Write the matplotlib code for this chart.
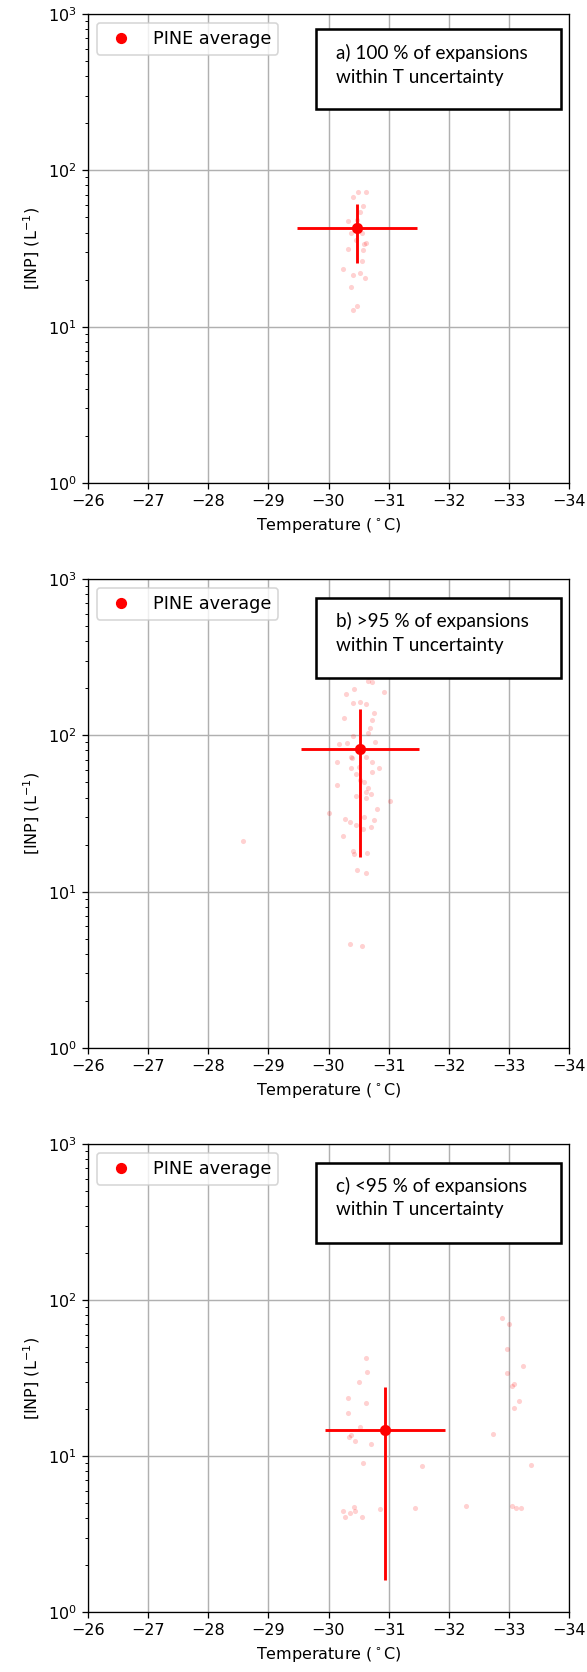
import matplotlib
matplotlib.use("Agg")
import matplotlib.pyplot as plt
from matplotlib.patches import Rectangle

# ---------------- data ----------------
# panel a: individual expansions
temp_a = [-30.49, -30.63, -30.41, -30.58, -30.53, -30.33, -30.48, -30.38, -30.45,
          -30.63, -30.59, -30.33, -30.57, -30.55, -30.24, -30.41, -30.52, -30.61,
          -30.38, -30.47, -30.41, -30.50, -30.55]
inp_a = [72.3, 72.6, 67.2, 59.1, 54.4, 47.4, 48.0, 39.9, 35.8,
         34.1, 34.0, 31.4, 30.8, 26.3, 23.3, 21.4, 21.9, 20.4,
         18.0, 13.6, 12.8, 44.0, 40.0]
mean_temp_a, mean_inp_a = -30.48, 43.0
xerr_a, yerr_a = 1.0, 17.5

# panel b
temp_b = [-30.66, -30.72, -30.29, -30.43, -30.92, -30.41, -30.53, -30.63, -30.76,
          -30.26, -30.72, -30.69, -30.66, -30.41, -30.78, -30.30, -30.17, -30.37,
          -30.39, -30.62, -30.73, -30.84, -30.14, -30.38, -30.51, -30.46, -30.72,
          -30.53, -30.59, -30.66, -30.63, -30.14, -30.71, -30.45, -30.62, -31.02,
          -30.01, -30.81, -30.27, -30.35, -30.59, -30.76, -30.45, -30.71, -30.57,
          -30.24, -30.41, -30.43, -30.64, -30.47, -30.62, -30.36, -30.55, -28.58]
inp_b = [222.7, 220.0, 183.8, 197.8, 189.2, 160.2, 162.5, 157.8, 138.2,
         128.5, 125.4, 110.9, 103.0, 99.1, 90.2, 89.8, 88.1, 72.3,
         71.3, 73.1, 67.9, 62.1, 67.9, 61.5, 63.0, 56.6, 58.0,
         51.8, 50.6, 46.3, 43.6, 47.9, 42.2, 41.1, 39.9, 38.0,
         32.0, 33.6, 29.3, 27.9, 30.2, 28.7, 26.6, 25.9, 25.3,
         22.8, 18.3, 17.3, 17.8, 13.8, 13.1, 4.62, 4.52, 21.2]
mean_temp_b, mean_inp_b = -30.52, 81.7
xerr_b, yerr_b = 0.98, 65.0

# panel c
temp_c = [-32.88, -33.00, -32.97, -33.23, -32.97, -33.09, -33.06, -33.17, -33.09,
          -32.74, -33.37, -32.28, -33.06, -33.12, -33.20, -31.44, -31.56, -30.62,
          -30.64, -30.50, -30.32, -30.62, -30.32, -30.52, -30.37, -30.34, -30.44,
          -30.70, -30.58, -30.24, -30.27, -30.36, -30.42, -30.44, -30.56, -30.86]
inp_c = [76.3, 70.6, 48.4, 37.5, 33.8, 28.9, 28.3, 22.6, 20.4,
         13.9, 8.8, 4.76, 4.79, 4.67, 4.65, 4.65, 8.59, 42.6,
         34.7, 29.9, 23.7, 22.0, 18.8, 15.4, 13.6, 13.3, 12.5,
         11.9, 9.0, 4.45, 4.09, 4.34, 4.74, 4.45, 4.09, 4.56]
mean_temp_c, mean_inp_c = -30.94, 14.6
xerr_c, yerr_c = 0.99, 13.0

panel_texts = [("a) 100 % of expansions", "within T uncertainty"),
               ("b) >95 % of expansions", "within T uncertainty"),
               ("c) <95 % of expansions", "within T uncertainty")]
xticks = [-26, -27, -28, -29, -30, -31, -32, -33, -34]
legend_label = "PINE average"
xlabel = r"Temperature ($^\circ$C)"
ylabel = r"[INP] (L$^{-1}$)"

# ---------------- figure ----------------
DPI = 115
W, H = 587, 1672
fig = plt.figure(figsize=(W / DPI, H / DPI), dpi=DPI)

panels = [
    (temp_a, inp_a, mean_temp_a, mean_inp_a, xerr_a, yerr_a),
    (temp_b, inp_b, mean_temp_b, mean_inp_b, xerr_b, yerr_b),
    (temp_c, inp_c, mean_temp_c, mean_inp_c, xerr_c, yerr_c),
]
# pixel positions of axes (top, bottom)
ax_pix = [(14, 483), (579, 1048), (1144, 1612)]
left_px, right_px = 88, 569
# box positions in axes fraction (top, bottom, line1, line2)
box_geo = [(0.968, 0.797, 0.917, 0.865),
           (0.960, 0.788, 0.910, 0.858),
           (0.960, 0.788, 0.910, 0.859)]

for i, (t, v, mt, mv, xe, ye) in enumerate(panels):
    top, bot = ax_pix[i]
    ax = fig.add_axes([left_px / W, 1 - bot / H, (right_px - left_px) / W, (bot - top) / H])
    ax.set_yscale("log")
    ax.set_xlim(-26, -34)
    ax.set_ylim(1, 1000)
    ax.set_xticks(xticks)
    ax.grid(True, which="major", color="#b0b0b0", lw=0.9)
    ax.set_axisbelow(True)
    ax.plot(t, v, "o", color="red", alpha=0.18, ms=3.2, mec="none", zorder=2)
    ax.errorbar([mt], [mv], xerr=[xe], yerr=[ye], fmt="none", ecolor="red",
                elinewidth=1.8, zorder=3)
    ax.plot([mt], [mv], "o", color="red", ms=6, label=legend_label, zorder=4)
    ax.legend(loc="upper left", fontsize=11)
    ax.set_xlabel(xlabel)
    ax.set_ylabel(ylabel)

    btop, bbot, l1, l2 = box_geo[i]
    ax.add_patch(Rectangle((0.475, bbot), 0.983 - 0.475, btop - bbot,
                           transform=ax.transAxes, facecolor="white",
                           edgecolor="black", lw=1.6, zorder=10, clip_on=False))
    ax.text(0.5156, l1, panel_texts[i][0], transform=ax.transAxes, ha="left",
            va="center", fontsize=11.8, family=["Lato", "DejaVu Sans"], zorder=11)
    ax.text(0.5156, l2, panel_texts[i][1], transform=ax.transAxes, ha="left",
            va="center", fontsize=11.8, family=["Lato", "DejaVu Sans"], zorder=11)

fig.savefig("out.png", dpi=DPI)
